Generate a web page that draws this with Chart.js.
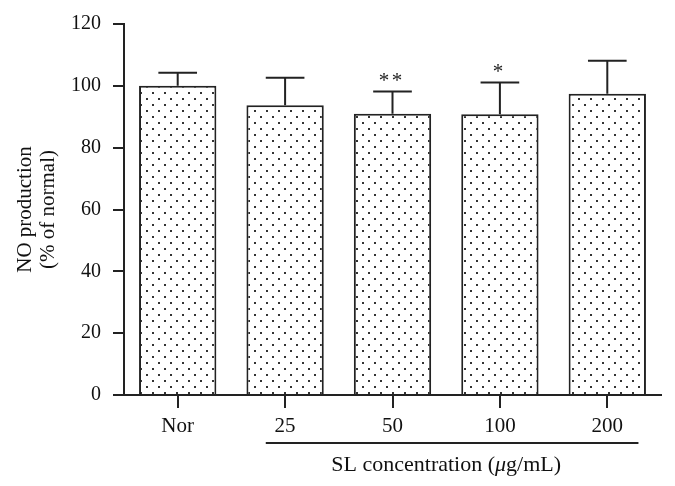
<!DOCTYPE html>
<html>
<head>
<meta charset="utf-8">
<script src="https://cdn.jsdelivr.net/npm/chart.js@4/dist/chart.umd.min.js"></script>
<style>
html, body { margin: 0; padding: 0; background: #fff; }
#wrap { width: 675px; height: 486px; }
</style>
</head>
<body>
<div id="wrap"><canvas id="chart"></canvas></div>
<script>
// values
const groups = ["Nor", "25", "50", "100", "200"];
const noValues = [100, 93.7, 91, 90.8, 97.4];
const sdValues = [4.2, 8.9, 7.2, 10.3, 10.7];
const marks = ["", "", "**", "*", ""];
const yTicks = [0, 20, 40, 60, 80, 100, 120];
const yTitle = ["NO production", "(% of normal)"];
const xTitle = "SL concentration (μg/mL)";

const SERIF = '"Liberation Serif", "DejaVu Serif", serif';
const INK = "#222";

// dotted fill
function dotPattern() {
  const c = document.createElement("canvas");
  c.width = 12; c.height = 12;
  const g = c.getContext("2d");
  g.fillStyle = "#fff";
  g.fillRect(0, 0, 12, 12);
  g.fillStyle = "#333";
  g.fillRect(2, 2, 2, 2);
  g.fillRect(8, 8, 2, 2);
  return g.createPattern(c, "repeat");
}

const errorBars = {
  id: "errorBars",
  afterDatasetsDraw(chart) {
    const ctx = chart.ctx, y = chart.scales.y;
    const meta = chart.getDatasetMeta(0);
    ctx.save();
    ctx.strokeStyle = INK;
    ctx.lineWidth = 2;
    meta.data.forEach((bar, i) => {
      const top = y.getPixelForValue(noValues[i] + sdValues[i]);
      const half = bar.width * 0.25;
      ctx.beginPath();
      ctx.moveTo(bar.x, bar.y);
      ctx.lineTo(bar.x, top);
      ctx.moveTo(bar.x - half, top);
      ctx.lineTo(bar.x + half, top);
      ctx.stroke();
      if (marks[i]) {
        ctx.fillStyle = INK;
        ctx.font = "21px " + SERIF;
        ctx.textAlign = "center";
        ctx.textBaseline = "alphabetic";
        const n = marks[i].length;
        for (let k = 0; k < n; k++) {
          ctx.fillText(marks[i][k], bar.x - 2 + (k - (n - 1) / 2) * 13, top - 4);
        }
      }
    });
    ctx.restore();
  }
};

const groupLabel = {
  id: "groupLabel",
  afterDraw(chart) {
    const ctx = chart.ctx, xs = chart.scales.x;
    const base = chart.chartArea.bottom;
    const x1 = xs.getPixelForValue(0.82), x2 = xs.getPixelForValue(4.29);
    ctx.save();
    ctx.strokeStyle = INK;
    ctx.lineWidth = 2;
    ctx.beginPath();
    ctx.moveTo(x1, base + 48);
    ctx.lineTo(x2, base + 48);
    ctx.stroke();

    // title with italic mu
    const parts = xTitle.split("μ");
    const segs = [
      { t: parts[0], f: "22px " + SERIF },
      { t: "μ", f: "italic 22px " + SERIF },
      { t: parts[1], f: "22px " + SERIF }
    ];
    let w = 0;
    segs.forEach(s => { ctx.font = s.f; s.w = ctx.measureText(s.t).width; w += s.w; });
    let x = xs.getPixelForValue(2.5) - w / 2;
    ctx.fillStyle = "#111";
    ctx.textAlign = "left";
    ctx.textBaseline = "alphabetic";
    segs.forEach(s => { ctx.font = s.f; ctx.fillText(s.t, x, base + 76); x += s.w; });
    ctx.restore();
  }
};

new Chart(document.getElementById("chart"), {
  type: "bar",
  data: {
    labels: groups,
    datasets: [{
      data: noValues,
      backgroundColor: dotPattern(),
      borderColor: INK,
      borderWidth: 2,
      categoryPercentage: 1,
      barPercentage: 0.72
    }]
  },
  options: {
    responsive: true,
    maintainAspectRatio: false,
    animation: false,
    devicePixelRatio: 1,
    layout: { padding: { top: 22, right: 14, left: 0, bottom: 0 } },
    plugins: { legend: { display: false }, tooltip: { enabled: false } },
    scales: {
      x: {
        grid: { display: true, drawOnChartArea: false, offset: false, tickLength: 13, color: INK, lineWidth: 2 },
        border: { color: INK, width: 2 },
        ticks: { color: "#111", font: { family: SERIF, size: 21 }, padding: 6 },
        afterFit(scale) { scale.height = 91; }
      },
      y: {
        min: 0,
        max: 120,
        afterBuildTicks(scale) { scale.ticks = yTicks.map(v => ({ value: v })); },
        grid: { display: true, drawOnChartArea: false, tickLength: 11, color: INK, lineWidth: 2 },
        border: { color: INK, width: 2 },
        ticks: { color: "#111", font: { family: SERIF, size: 20 }, padding: 12 },
        title: {
          display: true,
          text: yTitle,
          color: "#111",
          font: { family: SERIF, size: 21, lineHeight: 1.1 },
          padding: { top: 14, bottom: 0 }
        },
        afterFit(scale) { scale.width = 124; }
      }
    }
  },
  plugins: [errorBars, groupLabel]
});
</script>
</body>
</html>
